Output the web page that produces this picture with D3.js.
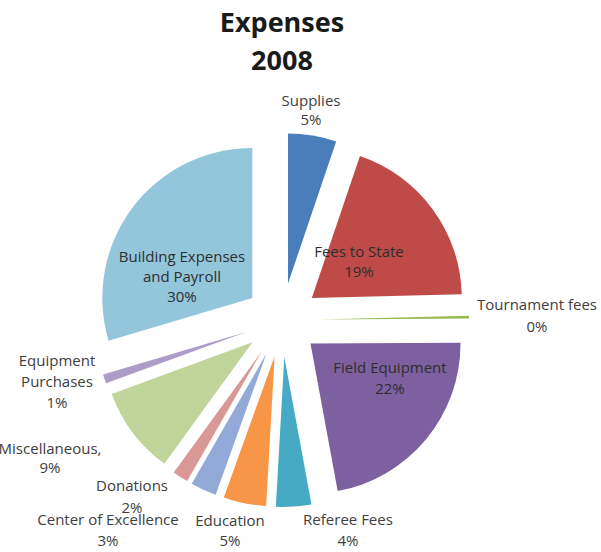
<!DOCTYPE html>
<html>
<head>
<meta charset="utf-8">
<script src="https://cdn.jsdelivr.net/npm/d3@7"></script>
<style>
  html, body { margin: 0; padding: 0; background: #fff; }
  svg { display: block; }
</style>
</head>
<body>
<svg id="chart" width="601" height="552"></svg>
<script>
// ---- data ----
const categories = [
  "Supplies", "Fees to State", "Tournament fees", "Field Equipment",
  "Referee Fees", "Education", "Center of Excellence", "Donations",
  "Miscellaneous", "Equipment Purchases", "Building Expenses and Payroll"
];
const values = [5.2, 19.4, 0.3, 22.2, 3.8, 4.6, 2.8, 1.7, 9.4, 1.0, 29.6];
const titleLines = ["Expenses", "2008"];

// ---- layout / style (not data) ----
const colors = [
  "#4a7ebb", "#be4b48", "#98b954", "#7d60a0", "#46aac5", "#f79646",
  "#93a9d7", "#d99795", "#c1d59a", "#ae9cc8", "#93c6db"
];
const insideLabel = [false, true, false, true, false, false, false, false, false, false, true];
// label name lines (the percentage is appended from the values)
const labelNameLines = [
  ["Supplies"], ["Fees to State"], ["Tournament fees"], ["Field Equipment"],
  ["Referee Fees"], ["Education"], ["Center of Excellence"], ["Donations"],
  ["Miscellaneous,"], ["Equipment", "Purchases"], ["Building Expenses", "and Payroll"]
];
// label block centre (x, first-line y) relative to the pie centre
const labelOffsets = [
  [29, -220], [77, -69], [255, -16], [108, 47],
  [66, 199], [-52, 200], [-174, 199], [-150, 165],
  [-232, 128], [-225, 40], [-100, -64]
];
const lineGaps = [19, 20, 22, 21, 21, 20, 21, 22, 19, 21, 20];

const W = 601, H = 552;
const cx = 282, cy = 320, R = 150, explode = 37;

const svg = d3.select("#chart");

// title
svg.append("text")
  .attr("x", 282).attr("y", 32)
  .attr("text-anchor", "middle")
  .attr("font-family", "'Open Sans', 'Noto Sans', sans-serif")
  .attr("font-weight", "bold")
  .attr("font-size", 27)
  .attr("fill", "#1a1a1a")
  .selectAll("tspan").data(titleLines).join("tspan")
  .attr("x", 282)
  .attr("dy", (d, i) => i === 0 ? 0 : 38)
  .text(d => d);

const total = d3.sum(values);
const pie = d3.pie().sort(null).value(d => d).startAngle(0).endAngle(2 * Math.PI);
const arcs = pie(values);
const arc = d3.arc().innerRadius(0).outerRadius(R);

const g = svg.append("g").attr("transform", `translate(${cx},${cy})`);

g.selectAll("path.slice").data(arcs).join("path")
  .attr("class", "slice")
  .attr("d", arc)
  .attr("fill", (d, i) => colors[i])
  .attr("transform", d => {
    const mid = (d.startAngle + d.endAngle) / 2;
    return `translate(${Math.sin(mid) * explode},${-Math.cos(mid) * explode})`;
  });

// labels
const labels = g.selectAll("text.lbl").data(arcs).join("text")
  .attr("class", "lbl")
  .attr("text-anchor", "middle")
  .attr("dominant-baseline", "central")
  .attr("font-family", "'Open Sans', 'Noto Sans', sans-serif")
  .attr("font-size", 15)
  .attr("fill", (d, i) => insideLabel[i] ? "#2e2e2e" : "#404040");

labels.each(function(d, i) {
  const lines = labelNameLines[i].concat([Math.round(d.value / total * 100) + "%"]);
  const [ox, oy] = labelOffsets[i];
  d3.select(this).selectAll("tspan").data(lines).join("tspan")
    .attr("x", ox)
    .attr("y", (t, j) => oy + j * lineGaps[i])
    .text(t => t);
});
</script>
</body>
</html>
